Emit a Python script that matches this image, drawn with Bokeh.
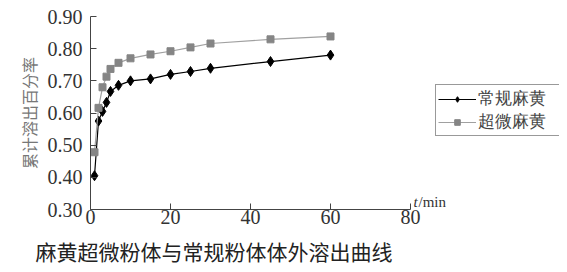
import numpy as np
from bokeh.plotting import figure
from bokeh.models import (Range1d, FixedTicker, Legend, LegendItem, Label,
                          NumeralTickFormatter, Title)
from bokeh.embed import file_html
from bokeh.resources import INLINE

# data
t_min = [1, 2, 3, 4, 5, 7, 10, 15, 20, 25, 30, 45, 60]
regular = [0.405, 0.575, 0.605, 0.633, 0.667, 0.686, 0.700, 0.706, 0.720, 0.729, 0.739, 0.760, 0.780]
ultrafine = [0.478, 0.616, 0.680, 0.713, 0.737, 0.756, 0.770, 0.782, 0.792, 0.804, 0.816, 0.829, 0.838]
series_names = ["常规麻黄", "超微麻黄"]
x_ticks = [0, 20, 40, 60, 80]
y_ticks = [0.3, 0.4, 0.5, 0.6, 0.7, 0.8, 0.9]
y_label = "累计溶出百分率"
x_unit = "/min"
caption = "麻黄超微粉体与常规粉体体外溶出曲线"

SERIF = "Liberation Serif"
CJK = "Noto Sans CJK SC"

# frame extends past the axis end (80) so that the legend and unit label fit inside
p = figure(width=567, height=272, output_backend="svg", toolbar_location=None,
           x_range=Range1d(0, 117.25), y_range=Range1d(0.3, 0.9),
           min_border_left=90, min_border_right=8, min_border_top=16,
           min_border_bottom=61)
p.outline_line_color = None
p.grid.visible = False
p.background_fill_color = "white"
p.border_fill_color = "white"

for ax in (p.xaxis[0], p.yaxis[0]):
    ax.axis_line_color = "#444444"
    ax.major_tick_line_color = "#444444"
    ax.major_tick_in = 6
    ax.major_tick_out = 0
    ax.minor_tick_line_color = None
    ax.major_label_text_font = SERIF
    ax.major_label_text_font_size = "20px"
    ax.major_label_text_color = "#333333"

p.xaxis.bounds = (0, 80)
p.xaxis.ticker = FixedTicker(ticks=x_ticks)
p.yaxis.ticker = FixedTicker(ticks=y_ticks)
p.yaxis.formatter = NumeralTickFormatter(format="0.00")
p.xaxis.major_label_standoff = 0
p.yaxis.major_label_standoff = 8

p.yaxis.axis_label = y_label
p.yaxis.axis_label_text_font = CJK
p.yaxis.axis_label_text_font_style = "normal"
p.yaxis.axis_label_text_font_size = "16px"
p.yaxis.axis_label_text_color = "#777777"
p.yaxis.axis_label_standoff = 4

l1 = p.line(t_min, regular, line_color="black", line_width=1.2)
s1 = p.scatter(t_min, regular, marker="diamond", size=10,
               fill_color="black", line_color="black")
l2 = p.line(t_min, ultrafine, line_color="#a0a0a0", line_width=1.2)
s2 = p.scatter(t_min, ultrafine, marker="square", size=7,
               fill_color="#858585", line_color="#858585")

legend = Legend(items=[LegendItem(label=series_names[0], renderers=[l1, s1]),
                       LegendItem(label=series_names[1], renderers=[l2, s2])],
                location=(345, 73))
legend.border_line_color = "#333333"
legend.border_line_width = 1
legend.background_fill_alpha = 1
legend.label_text_font = SERIF
legend.label_text_font_size = "17px"
legend.label_text_line_height = 1.0
legend.label_text_color = "#444444"
legend.glyph_width = 38
legend.glyph_height = 14
legend.label_height = 20
legend.label_width = 80
legend.label_standoff = 2
legend.padding = 2
legend.spacing = 0
legend.margin = 0
p.add_layout(legend)

p.add_layout(Label(x=80, y=0.3, x_offset=3, y_offset=0, text="t",
                   text_font=SERIF, text_font_style="italic",
                   text_font_size="15px", text_color="#333333",
                   text_baseline="bottom"))
p.add_layout(Label(x=80, y=0.3, x_offset=8, y_offset=0, text=x_unit,
                   text_font=SERIF, text_font_size="15px", text_color="#333333",
                   text_baseline="bottom"))

cap = Title(text=caption, align="left", offset=-55, standoff=14,
            text_font=CJK, text_font_size="21px", text_font_style="normal",
            text_color="#222222")
p.add_layout(cap, "below")

open("out.html", "w").write(file_html(p, INLINE))
